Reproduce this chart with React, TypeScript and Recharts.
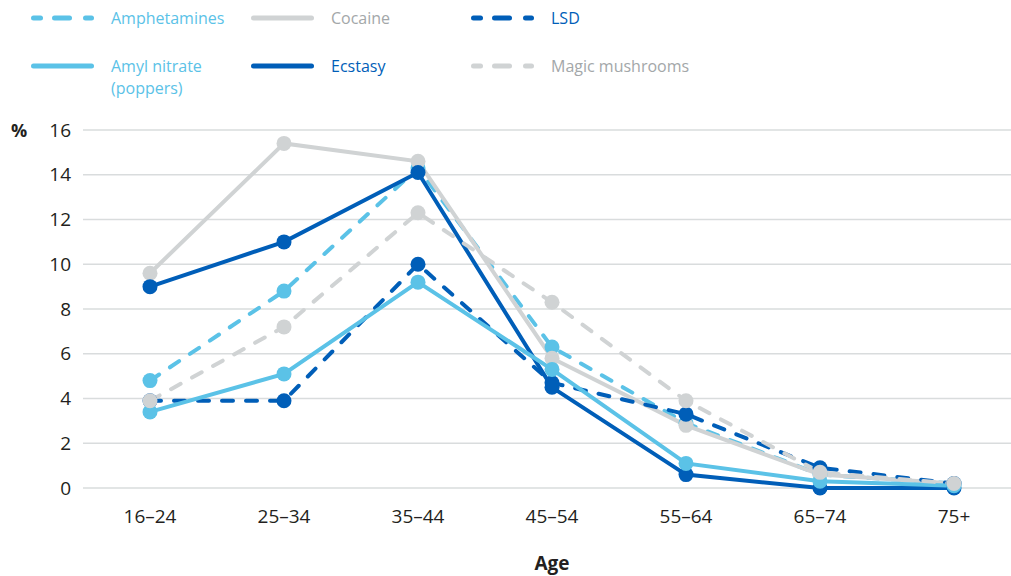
import React from 'react';
import { LineChart, Line, XAxis, YAxis, CartesianGrid } from 'recharts';

const ageGroups = ['16–24', '25–34', '35–44', '45–54', '55–64', '65–74', '75+'];
const amphetamines = [4.8, 8.8, 14.3, 6.3, 2.9, 0.6, 0.2];
const cocaine = [9.6, 15.4, 14.6, 5.8, 2.8, 0.6, 0.2];
const lsd = [3.9, 3.9, 10.0, 4.7, 3.3, 0.9, 0.2];
const amylNitrate = [3.4, 5.1, 9.2, 5.3, 1.1, 0.3, 0.1];
const ecstasy = [9.0, 11.0, 14.1, 4.5, 0.6, 0.0, 0.0];
const magicMushrooms = [3.9, 7.2, 12.3, 8.3, 3.9, 0.7, 0.2];
const yTicks = [0, 2, 4, 6, 8, 10, 12, 14, 16];

const LIGHT = '#5BC2E7';
const DARK = '#005EB8';
const GREY = '#D0D3D4';
const GREY_TEXT = '#A3A7A9';
const INK = '#231F20';
const FONT = '"Open Sans", "Noto Sans", sans-serif';

const data = ageGroups.map((age, i) => ({
  age,
  amphetamines: amphetamines[i],
  cocaine: cocaine[i],
  lsd: lsd[i],
  amylNitrate: amylNitrate[i],
  ecstasy: ecstasy[i],
  magicMushrooms: magicMushrooms[i],
}));

type SeriesDef = { key: string; name: string; color: string; dashed: boolean };
// drawing order (bottom to top)
const series: SeriesDef[] = [
  { key: 'amphetamines', name: 'Amphetamines', color: LIGHT, dashed: true },
  { key: 'cocaine', name: 'Cocaine', color: GREY, dashed: false },
  { key: 'lsd', name: 'LSD', color: DARK, dashed: true },
  { key: 'ecstasy', name: 'Ecstasy', color: DARK, dashed: false },
  { key: 'amylNitrate', name: 'Amyl nitrate', color: LIGHT, dashed: false },
  { key: 'magicMushrooms', name: 'Magic mushrooms', color: GREY, dashed: true },
];

const legendItems: { name: string[]; color: string; text: string; dashed: boolean; left: number; top: number }[] = [
  { name: ['Amphetamines'], color: LIGHT, text: LIGHT, dashed: true, left: 28, top: 7 },
  { name: ['Cocaine'], color: GREY, text: GREY_TEXT, dashed: false, left: 248, top: 7 },
  { name: ['LSD'], color: DARK, text: DARK, dashed: true, left: 468, top: 7 },
  { name: ['Amyl nitrate', '(poppers)'], color: LIGHT, text: LIGHT, dashed: false, left: 28, top: 55 },
  { name: ['Ecstasy'], color: DARK, text: DARK, dashed: false, left: 248, top: 55 },
  { name: ['Magic mushrooms'], color: GREY, text: GREY_TEXT, dashed: true, left: 468, top: 55 },
];

function LegendSample({ color, dashed }: { color: string; dashed: boolean }) {
  return (
    <svg width={72} height={22} style={{ display: 'block' }}>
      {dashed ? (
        <g stroke={color} strokeWidth={5} strokeLinecap="round">
          <line x1={5.5} y1={11} x2={12.5} y2={11} />
          <line x1={26.5} y1={11} x2={41.5} y2={11} />
          <line x1={57.5} y1={11} x2={63.5} y2={11} />
        </g>
      ) : (
        <line x1={5.5} y1={11} x2={63.5} y2={11} stroke={color} strokeWidth={5} strokeLinecap="round" />
      )}
    </svg>
  );
}

export default function App() {
  return (
    <div
      style={{
        position: 'fixed',
        left: 0,
        top: 0,
        width: 1011,
        height: 576,
        overflow: 'hidden',
        background: '#fff',
        fontFamily: FONT,
      }}
    >
      {legendItems.map((it) => (
        <div key={it.name[0]} style={{ position: 'absolute', left: it.left, top: it.top, display: 'flex' }}>
          <LegendSample color={it.color} dashed={it.dashed} />
          <div style={{ marginLeft: 11, color: it.text, fontSize: 16, lineHeight: '22px' }}>
            {it.name.map((n) => (
              <div key={n}>{n}</div>
            ))}
          </div>
        </div>
      ))}
      <div
        style={{
          position: 'absolute',
          left: 11,
          top: 118,
          fontSize: 18,
          fontWeight: 700,
          color: INK,
          lineHeight: '24px',
        }}
      >
        %
      </div>
      <div style={{ position: 'absolute', left: 0, top: 0 }}>
        <LineChart width={1030} height={576} data={data} margin={{ top: 130, right: 9, left: 0, bottom: 0 }}>
          <CartesianGrid vertical={false} stroke="#D9DCDD" strokeWidth={1.5} />
          <XAxis
            dataKey="age"
            axisLine={false}
            tickLine={false}
            tickSize={0}
            tickMargin={22}
            interval={0}
            height={88}
            padding={{ left: 67, right: 67 }}
            tick={{ fontSize: 19, fill: INK, fontFamily: FONT }}
            label={{
              value: 'Age',
              position: 'insideBottom',
              offset: 6,
              style: { fontSize: 19, fontWeight: 700, fill: INK, fontFamily: FONT },
            }}
          />
          <YAxis
            domain={[0, 16]}
            ticks={yTicks}
            width={83}
            axisLine={false}
            tickLine={false}
            tickSize={0}
            tickMargin={12}
            interval={0}
            tick={{ fontSize: 19, fill: INK, fontFamily: FONT }}
          />
          {series.map((s) => (
            <Line
              key={s.key}
              dataKey={s.key}
              name={s.name}
              type="linear"
              stroke={s.color}
              strokeWidth={4}
              strokeDasharray={s.dashed ? '11 13' : undefined}
              strokeLinecap="round"
              dot={{ r: 7.5, fill: s.color, stroke: 'none', strokeWidth: 0, strokeDasharray: '' }}
              activeDot={false}
              isAnimationActive={false}
            />
          ))}
        </LineChart>
      </div>
    </div>
  );
}
